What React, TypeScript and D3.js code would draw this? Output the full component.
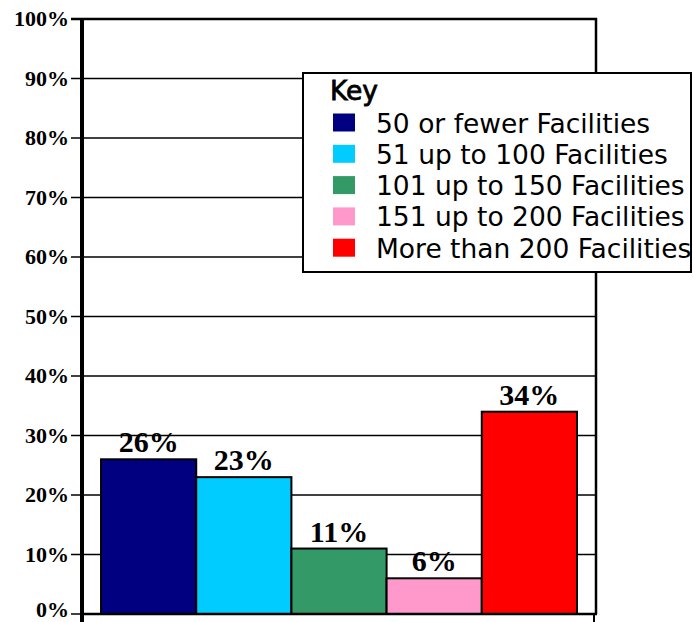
import React from "react";
import * as d3 from "d3";

const categories = [
  "50 or fewer Facilities",
  "51 up to 100 Facilities",
  "101 up to 150 Facilities",
  "151 up to 200 Facilities",
  "More than 200 Facilities",
];
const values = [26, 23, 11, 6, 34];
const colors = ["#000080", "#00CCFF", "#339966", "#FF99CC", "#FF0000"];
const yTicks = [0, 10, 20, 30, 40, 50, 60, 70, 80, 90, 100];
const legendTitle = "Key";

const W = 693;
const H = 622;
const left = 82;
const right = 596;
const top = 19;
const bottom = 614;

export default function App() {
  const x = d3
    .scaleBand<string>()
    .domain(categories)
    .range([left, right])
    .paddingInner(0)
    .paddingOuter(0.2);
  const y = d3.scaleLinear().domain([0, 100]).range([bottom, top]);

  const serif = "'Liberation Serif', 'Times New Roman', serif";
  const sans = "'DejaVu Sans', Verdana, sans-serif";

  const lx = 303;
  const ly = 73;
  const lw = 388;
  const lh = 199;

  return (
    <svg
      width={W}
      height={H}
      style={{ position: "absolute", left: 0, top: 0, background: "#fff" }}
    >
      <rect x={0} y={0} width={W} height={H} fill="#fff" />
      {/* gridlines */}
      {yTicks.map((t) => (
        <g key={t}>
          <line
            x1={71}
            x2={t === 100 ? right + 1 : right}
            y1={y(t)}
            y2={y(t)}
            stroke="#000"
            strokeWidth={t === 100 ? 2.5 : 1.6}
          />
          <text
            x={69}
            y={t === 0 ? y(t) - 4 : y(t)}
            dy="0.34em"
            textAnchor="end"
            fontFamily={serif}
            fontWeight="bold"
            fontSize={22}
            fill="#000"
          >
            {t}%
          </text>
        </g>
      ))}
      {/* right border */}
      <line x1={right} x2={right} y1={top - 1} y2={bottom} stroke="#000" strokeWidth={2.5} />
      {/* bars */}
      {categories.map((c, i) => (
        <g key={c}>
          <rect
            x={x(c)!}
            y={y(values[i])}
            width={x.bandwidth()}
            height={bottom - y(values[i])}
            fill={colors[i]}
            stroke="#000"
            strokeWidth={2}
          />
          <text
            x={x(c)! + x.bandwidth() / 2}
            y={y(values[i]) - 7}
            textAnchor="middle"
            fontFamily={serif}
            fontWeight="bold"
            fontSize={30}
            fill="#000"
          >
            {values[i]}%
          </text>
        </g>
      ))}
      {/* axes */}
      <line x1={left} x2={left} y1={top - 1} y2={H} stroke="#000" strokeWidth={4} />
      <line x1={left} x2={right + 1} y1={bottom} y2={bottom} stroke="#000" strokeWidth={2.5} />
      <line x1={right - 2} x2={right - 2} y1={bottom} y2={H} stroke="#000" strokeWidth={2} />
      {/* legend */}
      <rect x={lx} y={ly} width={lw} height={lh} fill="#fff" stroke="#000" strokeWidth={2} />
      <text
        x={330}
        y={100}
        fontFamily={sans}
        fontSize={26.5}
        fill="#000"
        stroke="#000"
        strokeWidth={0.8}
      >
        {legendTitle}
      </text>
      {categories.map((c, i) => {
        const base = 132.5 + i * 31.3;
        return (
          <g key={c}>
            <rect x={333} y={base - 19} width={22} height={18} fill={colors[i]} />
            <text x={376} y={base} fontFamily={sans} fontSize={26.5} fill="#000">
              {c}
            </text>
          </g>
        );
      })}
    </svg>
  );
}
